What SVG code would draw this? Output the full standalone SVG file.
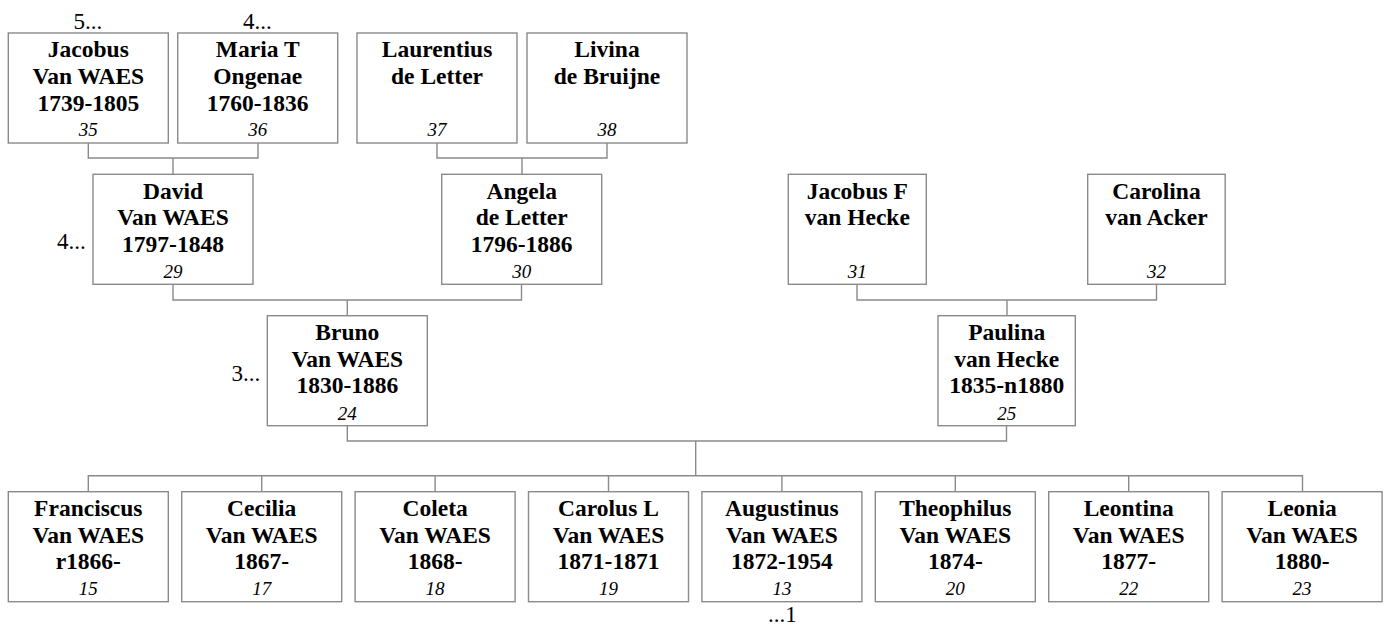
<svg xmlns="http://www.w3.org/2000/svg" width="1389" height="625" viewBox="0 0 1389 625">
<style>
rect.b{fill:#fff;stroke:#8a8a8a;stroke-width:1.4}
.c path{fill:none;stroke:#8a8a8a;stroke-width:1.4}
text{font-family:"Liberation Serif","Times New Roman",serif;fill:#000}
.n{font-weight:bold;font-size:23.5px;text-anchor:middle}
.i{font-style:italic;font-size:19px;text-anchor:middle}
.l{font-size:23px}
</style>
<rect width="1389" height="625" fill="#fff"/>
<g class="c">
<path d="M88.3 143V158H258V143M173 158V174"/>
<path d="M437 143V158H607V143M522 158V174"/>
<path d="M173 284V300H521.5V284M347.3 300V316"/>
<path d="M857 284V300H1156.5V284M1007 300V316"/>
<path d="M347.3 425V441H1006.5V425M695.7 441V475.7"/>
<path d="M88.3 491.7V475.7H1302.5V491.7M261.7 475.7V491.7M435.1 475.7V491.7M608.5 475.7V491.7M781.9 475.7V491.7M955.3 475.7V491.7M1128.7 475.7V491.7"/>
</g>
<g id="p35"><rect class="b" x="8.3" y="33" width="160" height="110"/><text class="n" x="88.3" y="57.3">Jacobus</text><text class="n" x="88.3" y="84">Van WAES</text><text class="n" x="88.3" y="110.5">1739-1805</text><text class="i" x="88.3" y="136.3">35</text></g>
<g id="p36"><rect class="b" x="177.7" y="33" width="160" height="110"/><text class="n" x="257.7" y="57.3">Maria T</text><text class="n" x="257.7" y="84">Ongenae</text><text class="n" x="257.7" y="110.5">1760-1836</text><text class="i" x="257.7" y="136.3">36</text></g>
<g id="p37"><rect class="b" x="357" y="33" width="160" height="110"/><text class="n" x="437" y="57.3">Laurentius</text><text class="n" x="437" y="84">de Letter</text><text class="i" x="437" y="136.3">37</text></g>
<g id="p38"><rect class="b" x="527" y="33" width="160" height="110"/><text class="n" x="607" y="57.3">Livina</text><text class="n" x="607" y="84">de Bruijne</text><text class="i" x="607" y="136.3">38</text></g>
<g id="p29"><rect class="b" x="93" y="174.3" width="160" height="110"/><text class="n" x="173" y="198.5">David</text><text class="n" x="173" y="225.2">Van WAES</text><text class="n" x="173" y="251.8">1797-1848</text><text class="i" x="173" y="278">29</text></g>
<g id="p30"><rect class="b" x="441.7" y="174.3" width="160" height="110"/><text class="n" x="521.7" y="198.5">Angela</text><text class="n" x="521.7" y="225.2">de Letter</text><text class="n" x="521.7" y="251.8">1796-1886</text><text class="i" x="521.7" y="278">30</text></g>
<g id="p31"><rect class="b" x="788.3" y="174.3" width="138" height="110"/><text class="n" x="857.3" y="198.5">Jacobus F</text><text class="n" x="857.3" y="225.2">van Hecke</text><text class="i" x="857.3" y="278">31</text></g>
<g id="p32"><rect class="b" x="1087.7" y="174.3" width="137.5" height="110"/><text class="n" x="1156.5" y="198.5">Carolina</text><text class="n" x="1156.5" y="225.2">van Acker</text><text class="i" x="1156.5" y="278">32</text></g>
<g id="p24"><rect class="b" x="267.3" y="315.7" width="160" height="110"/><text class="n" x="347.3" y="340">Bruno</text><text class="n" x="347.3" y="366.6">Van WAES</text><text class="n" x="347.3" y="393.2">1830-1886</text><text class="i" x="347.3" y="419.5">24</text></g>
<g id="p25"><rect class="b" x="938" y="315.7" width="137.3" height="110"/><text class="n" x="1006.7" y="340">Paulina</text><text class="n" x="1006.7" y="366.6">van Hecke</text><text class="n" x="1006.7" y="393.2">1835-n1880</text><text class="i" x="1006.7" y="419.5">25</text></g>
<g id="p15"><rect class="b" x="8.3" y="491.7" width="160" height="110"/><text class="n" x="88.3" y="516">Franciscus</text><text class="n" x="88.3" y="542.6">Van WAES</text><text class="n" x="88.3" y="569.2">r1866-</text><text class="i" x="88.3" y="595.3">15</text></g>
<g id="p17"><rect class="b" x="181.7" y="491.7" width="160" height="110"/><text class="n" x="261.7" y="516">Cecilia</text><text class="n" x="261.7" y="542.6">Van WAES</text><text class="n" x="261.7" y="569.2">1867-</text><text class="i" x="261.7" y="595.3">17</text></g>
<g id="p18"><rect class="b" x="355.1" y="491.7" width="160" height="110"/><text class="n" x="435.1" y="516">Coleta</text><text class="n" x="435.1" y="542.6">Van WAES</text><text class="n" x="435.1" y="569.2">1868-</text><text class="i" x="435.1" y="595.3">18</text></g>
<g id="p19"><rect class="b" x="528.5" y="491.7" width="160" height="110"/><text class="n" x="608.5" y="516">Carolus L</text><text class="n" x="608.5" y="542.6">Van WAES</text><text class="n" x="608.5" y="569.2">1871-1871</text><text class="i" x="608.5" y="595.3">19</text></g>
<g id="p13"><rect class="b" x="701.9" y="491.7" width="160" height="110"/><text class="n" x="781.9" y="516">Augustinus</text><text class="n" x="781.9" y="542.6">Van WAES</text><text class="n" x="781.9" y="569.2">1872-1954</text><text class="i" x="781.9" y="595.3">13</text></g>
<g id="p20"><rect class="b" x="875.3" y="491.7" width="160" height="110"/><text class="n" x="955.3" y="516">Theophilus</text><text class="n" x="955.3" y="542.6">Van WAES</text><text class="n" x="955.3" y="569.2">1874-</text><text class="i" x="955.3" y="595.3">20</text></g>
<g id="p22"><rect class="b" x="1048.7" y="491.7" width="160" height="110"/><text class="n" x="1128.7" y="516">Leontina</text><text class="n" x="1128.7" y="542.6">Van WAES</text><text class="n" x="1128.7" y="569.2">1877-</text><text class="i" x="1128.7" y="595.3">22</text></g>
<g id="p23"><rect class="b" x="1222.1" y="491.7" width="160" height="110"/><text class="n" x="1302.1" y="516">Leonia</text><text class="n" x="1302.1" y="542.6">Van WAES</text><text class="n" x="1302.1" y="569.2">1880-</text><text class="i" x="1302.1" y="595.3">23</text></g>
<g id="labels">
<text class="l" x="73.5" y="29">5...</text>
<text class="l" x="243" y="29">4...</text>
<text class="l" x="57" y="248.5">4...</text>
<text class="l" x="231.5" y="380.5">3...</text>
<text class="l" x="768" y="621.5">...1</text>
</g>
</svg>
